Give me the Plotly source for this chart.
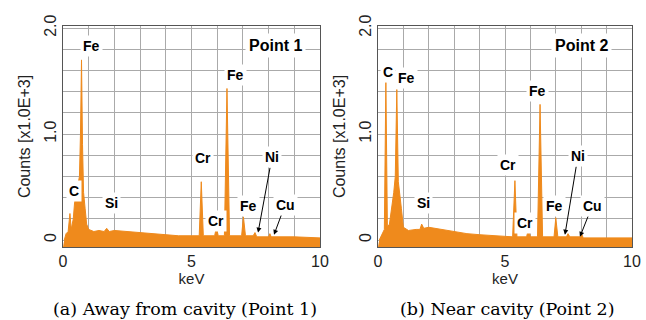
import plotly.graph_objects as go

# ---- Data (counts in units of 1.0E+3) ----
kev_p1 = [0.05, 0.12, 0.2, 0.27, 0.32, 0.4, 0.45, 0.52, 0.58, 0.64, 0.68, 0.72, 0.76, 0.8, 0.86,
          0.92, 1.0, 1.2, 1.4, 1.6, 1.7, 1.8, 2.0, 2.5, 3.0, 3.5, 4.0, 4.5, 5.0, 5.3, 5.38,
          5.46, 5.9, 5.97, 6.04, 6.28, 6.38, 6.48, 6.95, 7.02, 7.1, 7.4, 7.47, 7.54, 8.0,
          8.05, 8.1, 9.0, 10.0]
cnt_p1 = [0.0, 0.06, 0.08, 0.25, 0.1, 0.2, 0.35, 0.45, 0.5, 0.6, 1.0, 1.70, 0.9, 0.45, 0.3,
          0.15, 0.1, 0.08, 0.09, 0.08, 0.11, 0.08, 0.09, 0.08, 0.07, 0.06, 0.05, 0.04, 0.04, 0.04, 0.55,
          0.04, 0.04, 0.12, 0.04, 0.04, 1.43, 0.04, 0.04, 0.22, 0.04, 0.04, 0.07, 0.03, 0.03,
          0.06, 0.03, 0.03, 0.02]

kev_p2 = [0.05, 0.15, 0.25, 0.31, 0.37, 0.45, 0.55, 0.62, 0.68, 0.74, 0.8, 0.86, 0.92, 1.0,
          1.2, 1.5, 1.65, 1.72, 1.8, 2.0, 2.5, 3.0, 3.5, 4.0, 4.5, 5.0, 5.3, 5.39, 5.47, 5.85,
          5.92, 6.0, 6.28, 6.38, 6.48, 6.93, 7.0, 7.08, 7.42, 7.48, 7.55, 7.98, 8.03, 8.08,
          9.0, 10.0]
cnt_p2 = [0.0, 0.05, 0.1, 1.49, 0.12, 0.15, 0.3, 0.45, 0.6, 1.42, 0.55, 0.45, 0.3, 0.12,
          0.09, 0.1, 0.1, 0.15, 0.11, 0.12, 0.1, 0.08, 0.06, 0.05, 0.04, 0.03, 0.03, 0.56, 0.03, 0.03,
          0.10, 0.03, 0.03, 1.28, 0.03, 0.03, 0.21, 0.03, 0.03, 0.06, 0.03, 0.03, 0.05, 0.02,
          0.02, 0.02]

# Peak labels: (text, x keV, y counts)
labels_p1 = [("Fe", 1.09, 1.83), ("Fe", 6.73, 1.56), ("Cr", 5.45, 0.77), ("C", 0.43, 0.46),
             ("Si", 1.87, 0.35), ("Fe", 7.2, 0.32), ("Cr", 5.95, 0.18)]
labels_p2 = [("C", 0.39, 1.59), ("Fe", 1.14, 1.53), ("Fe", 6.26, 1.41), ("Cr", 5.12, 0.71),
             ("Si", 1.81, 0.35), ("Fe", 6.93, 0.32), ("Cr", 5.79, 0.16)]
# Arrow labels: (text, label x, label y, head x, head y)
arrows_p1 = [("Ni", 8.13, 0.78, 7.59, 0.07), ("Cu", 8.64, 0.33, 8.21, 0.05)]
arrows_p2 = [("Ni", 7.87, 0.79, 7.36, 0.05), ("Cu", 8.43, 0.32, 7.95, 0.03)]

titles = ["Point 1", "Point 2"]
captions = ["(a) Away from cavity (Point 1)", "(b) Near cavity (Point 2)"]
x_ticks = [0, 5, 10]
y_ticks = [0, 1.0, 2.0]
y_ticktext = ["0", "1.0", "2.0"]

Y_MIN, Y_MAX = -0.066, 2.02
ORANGE = "#EF8A1C"
W, H = 646, 320

fig = go.Figure()
for i, (kx, ky) in enumerate([(kev_p1, cnt_p1), (kev_p2, cnt_p2)]):
    xa = "x" if i == 0 else "x2"
    ya = "y" if i == 0 else "y2"
    fig.add_trace(go.Scatter(x=[0, 10], y=[Y_MIN, Y_MIN], mode="lines", line=dict(width=0),
                             xaxis=xa, yaxis=ya, showlegend=False, hoverinfo="skip"))
    fig.add_trace(go.Scatter(x=kx, y=ky, mode="lines", line=dict(color=ORANGE, width=1),
                             fill="tonexty", fillcolor=ORANGE, xaxis=xa, yaxis=ya,
                             showlegend=False))

ann = []
lab_font = dict(family="Liberation Sans, Arial", size=14, color="black")
for i, (labs, arrs) in enumerate([(labels_p1, arrows_p1), (labels_p2, arrows_p2)]):
    xr = "x" if i == 0 else "x2"
    yr = "y" if i == 0 else "y2"
    for t, x, y in labs:
        ann.append(dict(text="<b>%s</b>" % t, x=x, y=y, xref=xr, yref=yr, showarrow=False,
                        font=lab_font, bgcolor="white", borderpad=2))
    for t, lx, ly, hx, hy in arrs:
        ann.append(dict(text="<b>%s</b>" % t, x=hx, y=hy, ax=lx, ay=ly, xref=xr, yref=yr,
                        axref=xr, ayref=yr, showarrow=True, arrowhead=2, arrowsize=1,
                        arrowwidth=1, arrowcolor="black", standoff=0,
                        font=lab_font, bgcolor="white", borderpad=2))
    ann.append(dict(text="<b>%s</b>" % titles[i], x=8.25 if i == 0 else 8.03, y=1.84,
                    xref=xr, yref=yr, showarrow=False, bgcolor="white", borderpad=3,
                    font=dict(family="Liberation Sans, Arial", size=16, color="black")))

for i, cx in enumerate([185 / W, 507 / W]):
    ann.append(dict(text=captions[i], x=cx, y=1 - 309 / H, xref="paper", yref="paper",
                    showarrow=False, xanchor="center", yanchor="middle",
                    font=dict(family="DejaVu Serif", size=17.5, color="black")))

axis_common = dict(
    range=[0, 10], tickvals=x_ticks, ticks="", showgrid=True, gridcolor="#aaaaaa",
    minor=dict(dtick=1, showgrid=True, gridcolor="#aaaaaa", gridwidth=1),
    showline=True, mirror=True, linecolor="#555555", linewidth=1, zeroline=False,
    automargin=False,
    tickfont=dict(family="Liberation Sans, Arial", size=16, color="#222"),
    title=dict(text="keV", standoff=0, font=dict(family="Liberation Sans, Arial", size=15, color="#222")),
)
yaxis_common = dict(
    range=[Y_MIN, Y_MAX], tickvals=y_ticks, ticktext=y_ticktext, tickangle=-90, ticks="",
    showgrid=True, gridcolor="#aaaaaa",
    minor=dict(dtick=0.2, tick0=0, showgrid=True, gridcolor="#aaaaaa", gridwidth=1),
    showline=True, mirror=True, linecolor="#555555", linewidth=1, zeroline=False,
    automargin=False,
    tickfont=dict(family="Liberation Sans, Arial", size=16, color="#222"),
    title=dict(text="Counts [x1.0E+3]", standoff=6, font=dict(family="Liberation Sans, Arial", size=16, color="#222")),
)

fig.update_layout(
    width=W, height=H, margin=dict(l=0, r=0, t=0, b=0, autoexpand=False),
    paper_bgcolor="white", plot_bgcolor="white", showlegend=False,
    xaxis=dict(domain=[63 / W, 320 / W], anchor="y", **axis_common),
    xaxis2=dict(domain=[378 / W, 632 / W], anchor="y2", **axis_common),
    yaxis=dict(domain=[1 - 247 / H, 1 - 26 / H], anchor="x", **yaxis_common),
    yaxis2=dict(domain=[1 - 247 / H, 1 - 26 / H], anchor="x2", **yaxis_common),
    annotations=ann,
)

fig.write_html("out.html", config={"displayModeBar": False},
               post_script="document.body.style.margin='0';")
